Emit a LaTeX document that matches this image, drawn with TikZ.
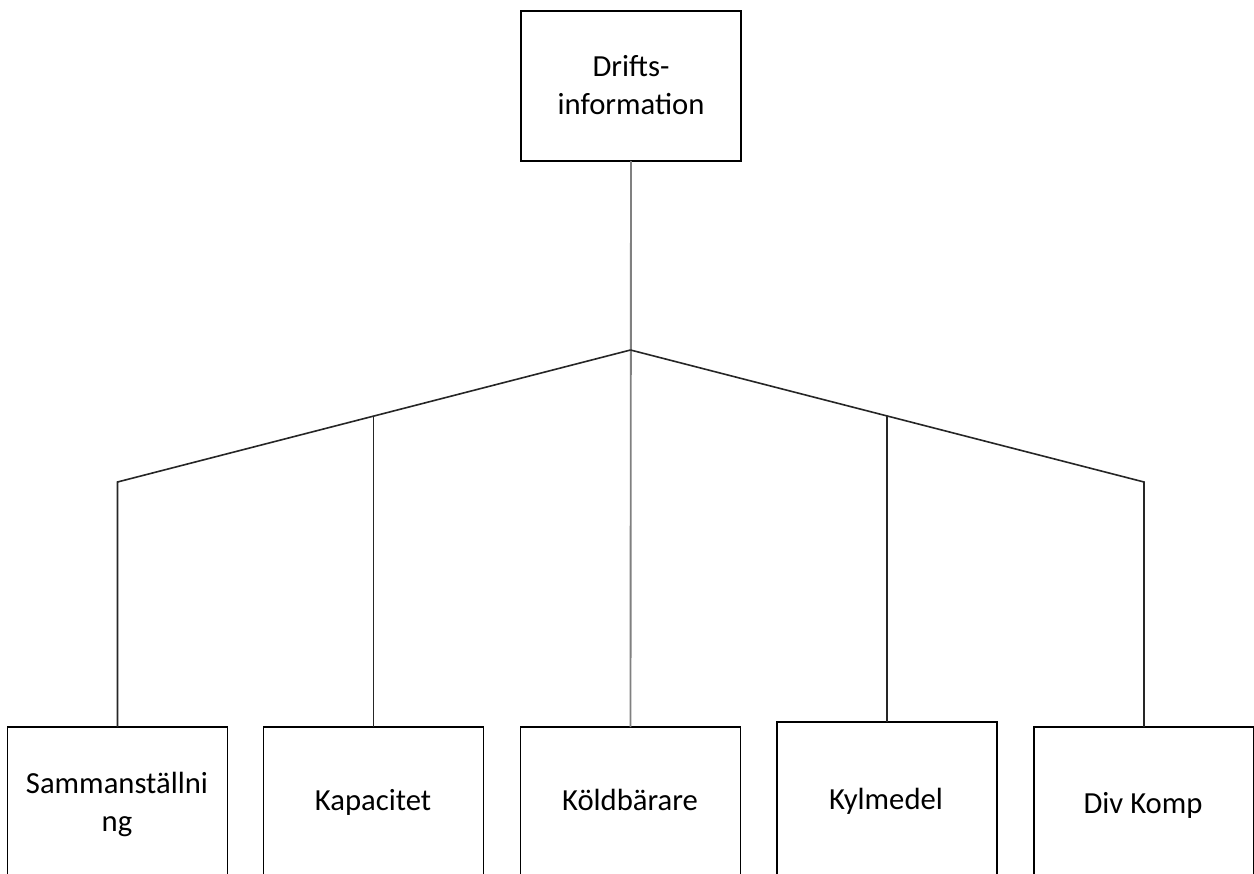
\documentclass[tikz,border=0pt]{standalone}
\usepackage{fontspec}
\setmainfont{Carlito}
\begin{document}
\begin{tikzpicture}[x=0.75pt,y=-0.75pt,
  box/.style={draw=black,line width=1.1pt,fill=white,minimum width=165pt,inner sep=0pt,outer sep=0pt},
  lbl/.style={inner sep=0pt,anchor=base,align=center,font=\fontsize{23pt}{28.5pt}\selectfont},
  trunk/.style={draw=black!50,line width=1.4pt},
  branch/.style={draw=black!85,line width=1.2pt}]
\useasboundingbox (0,0) rectangle (1254,874);
\clip (0,0) rectangle (1254,874);
\fill[white] (0,0) rectangle (1254,874);

% root and leaf boxes
\node[box,minimum height=112.5pt] (root) at (631,86) {};
\node[box,minimum height=122.25pt] (b1) at (117.5,808.5) {};
\node[box,minimum height=122.25pt] (b2) at (373.5,808.5) {};
\node[box,minimum height=122.25pt] (b3) at (630.5,808.5) {};
\node[box,minimum height=126pt] (b4) at (887,806) {};
\node[box,minimum height=122.25pt] (b5) at (1144,808.5) {};

% labels (base anchor sits on the last line of multi-line text)
\node[lbl] (t0) at (631,115) {Drifts-\\information};
\node[lbl] (t1) at (117,831) {Sammanställni\\ng};
\node[lbl] (t2) at (373,810) {Kapacitet};
\node[lbl] (t3) at (630,810) {Köldbärare};
\node[lbl] (t4) at (886,809) {Kylmedel};
\node[lbl] (t5) at (1143,813) {Div Komp};

% branching points
\coordinate (hub) at (630.5,350);
\coordinate (lc) at (117.5,482);
\coordinate (rc) at (1144,482);
\coordinate (lm) at (373.5,416.3);
\coordinate (rm) at (887,416.1);

% connectors
\draw[trunk] (root.south) -- (b3.north);
\draw[branch] (hub) -- (lc) -- (b1.north);
\draw[branch] (hub) -- (rc) -- (b5.north);
\draw[branch] (lm) -- (b2.north);
\draw[branch] (rm) -- (b4.north);
\end{tikzpicture}
\end{document}
